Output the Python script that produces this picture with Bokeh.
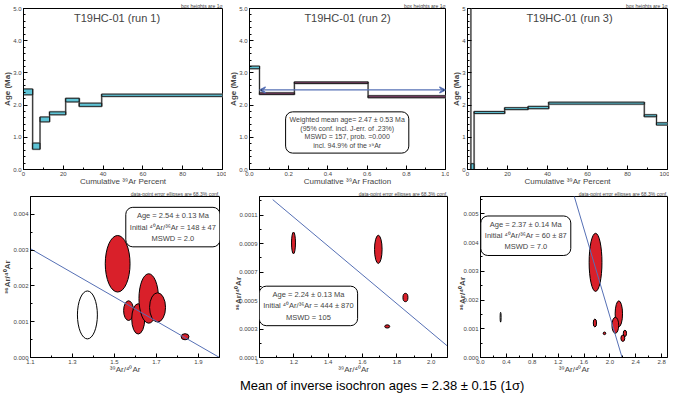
import math
from bokeh.plotting import figure
from bokeh.models import (ColumnDataSource, FixedTicker, PrintfTickFormatter,
                          Arrow, VeeHead, Div, Range1d, Label)
from bokeh.layouts import column, row
from bokeh.embed import file_html
from bokeh.resources import INLINE

FONT = "Liberation Sans"
CYAN = "#5ec3d5"
PURPLE = "#8a4470"
RED = "#d9202a"
BLUE = "#5670b5"

# ---------------- step-heating spectra (cumulative 39Ar, age box lo/hi in Ma)
run1_left = [0.0, 4.6, 8.3, 13.1, 21.2, 28.0, 39.3]
run1_right = [4.6, 8.3, 13.1, 21.2, 28.0, 39.3, 100.0]
run1_lo = [2.32, 0.63, 1.48, 1.70, 2.10, 1.96, 2.27]
run1_hi = [2.50, 0.82, 1.63, 1.79, 2.21, 2.06, 2.34]
run1_fill = [CYAN] * 7

run2_left = [0.0, 0.051, 0.229, 0.605]
run2_right = [0.051, 0.229, 0.605, 1.0]
run2_lo = [3.13, 2.33, 2.67, 2.23]
run2_hi = [3.21, 2.38, 2.72, 2.29]
run2_fill = [CYAN, PURPLE, PURPLE, PURPLE]
run2_wmean = 2.47
run2_wmean_x = [0.051, 1.0]

run3_left = [0.0, 1.7, 3.3, 18.6, 30.3, 40.6, 88.4, 94.5]
run3_right = [1.7, 3.3, 18.6, 30.3, 40.6, 88.4, 94.5, 100.0]
run3_lo = [6.0, 0.0, 1.74, 1.86, 1.89, 2.03, 1.64, 1.38]
run3_hi = [6.6, 0.18, 1.80, 1.92, 1.96, 2.09, 1.70, 1.45]
run3_fill = [CYAN] * 8

# ---------------- inverse isochrons (39Ar/40Ar, 36Ar/40Ar ellipses)
iso1_x = [1.515, 1.371, 1.567, 1.613, 1.663, 1.705, 1.836]
iso1_y = [0.00262, 0.00119, 0.00131, 0.00108, 0.00165, 0.00140, 0.00058]
iso1_w = [0.118, 0.095, 0.047, 0.062, 0.093, 0.076, 0.037]
iso1_h = [0.00158, 0.00134, 0.00055, 0.00085, 0.00138, 0.00082, 0.00017]
iso1_fill = [RED, "white", RED, RED, RED, RED, RED]
iso1_line_x = [1.1, 2.0]
iso1_line_y = [0.00304, 0.0]

iso2_x = [1.198, 1.692, 1.850, 1.744]
iso2_y = [0.000904, 0.000859, 0.000521, 0.000318]
iso2_w = [0.023, 0.044, 0.029, 0.029]
iso2_h = [0.000153, 0.000198, 0.0000586, 0.0000225]
iso2_fill = [RED, RED, RED, RED]
iso2_line_x = [1.077, 2.092]
iso2_line_y = [0.001208, 0.000183]

iso3_x = [1.778, 2.138, 2.084, 1.768, 1.916, 2.232, 2.200, 0.311]
iso3_y = [0.00331, 0.00152, 0.00112, 0.00120, 0.00084, 0.00084, 0.00067, 0.00140]
iso3_w = [0.198, 0.114, 0.104, 0.050, 0.040, 0.050, 0.060, 0.015]
iso3_h = [0.00202, 0.00090, 0.00056, 0.00028, 0.00009, 0.00022, 0.00022, 0.00034]
iso3_fill = [RED, RED, RED, RED, RED, RED, RED, "white"]
iso3_line_x = [1.447, 2.188]
iso3_line_y = [0.00562, 0.0]

# ---------------- texts
titles = ["T19HC-01 (run 1)", "T19HC-01 (run 2)", "T19HC-01 (run 3)"]
wmean_text = ("Weighted mean age= 2.47 \u00b1 0.53 Ma\n"
              "(95% conf. incl. J-err. of .23%)\n"
              "MSWD = 157, prob. =0.000\n"
              "incl. 94.9% of the \u00b3\u2079Ar")
iso1_text = "Age = 2.54 \u00b1 0.13 Ma\nInitial \u2074\u2070Ar/\u00b3\u2076Ar = 148 \u00b1 47\nMSWD = 2.0"
iso2_text = "Age = 2.24 \u00b1 0.13 Ma\nInitial \u2074\u2070Ar/\u00b3\u2076Ar = 444 \u00b1 870\nMSWD = 105"
iso3_text = "Age = 2.37 \u00b1 0.14 Ma\nInitial \u2074\u2070Ar/\u00b3\u2076Ar = 60 \u00b1 87\nMSWD = 7.0"
caption = "Mean of inverse isochron ages = 2.38 \u00b1 0.15 (1\u03c3)"


def style(p, xticks, xminor, xfmt, yticks, yminor, yfmt, xlabel, ylabel):
    p.xaxis.ticker = FixedTicker(ticks=xticks, minor_ticks=xminor)
    p.yaxis.ticker = FixedTicker(ticks=yticks, minor_ticks=yminor)
    p.xaxis.formatter = PrintfTickFormatter(format=xfmt)
    p.yaxis.formatter = PrintfTickFormatter(format=yfmt)
    p.xaxis.axis_label = xlabel
    p.yaxis.axis_label = ylabel
    for ax in (p.xaxis[0], p.yaxis[0]):
        ax.major_tick_in = 4
        ax.major_tick_out = 0
        ax.minor_tick_in = 2
        ax.minor_tick_out = 0
        ax.major_label_text_font_size = "6px"
        ax.major_label_text_font = FONT
        ax.axis_label_text_font = FONT
        ax.major_label_standoff = 2
        ax.axis_label_standoff = -2
        ax.axis_line_color = "black"
        ax.major_tick_line_color = "black"
        ax.minor_tick_line_color = "black"
    p.xaxis.axis_label_text_font_size = "8px"
    p.xaxis.axis_label_text_font_style = "normal"
    p.yaxis.axis_label_text_font_size = "8px"
    p.yaxis.axis_label_text_font_style = "bold"
    p.grid.visible = False
    p.outline_line_color = "black"
    p.outline_line_alpha = 1
    p.title.align = "right"
    p.title.text_font_size = "5px"
    p.title.text_font_style = "normal"
    p.title.text_font = FONT
    p.title.standoff = 0
    p.background_fill_color = "white"
    p.border_fill_color = "white"


def box_label(x, y, text, size):
    return Label(x=x, y=y, text=text, text_align="center", text_baseline="middle",
                 text_font=FONT, text_font_size=size, text_line_height=1.25,
                 background_fill_color="white", background_fill_alpha=1,
                 border_line_color="black", border_line_alpha=1, border_line_width=1,
                 border_radius=7, padding=4)


def plateau(left, right, lo, hi, fill, title, xend, xticks, xminor, xfmt, yticks, yfmt, xlabel,
            title_x, width, lb, rb):
    p = figure(width=width, height=188, x_range=Range1d(0, xend), y_range=Range1d(0, 5),
               output_backend="svg", toolbar_location=None, title="box heights are 1\u03c3",
               min_border_left=lb, min_border_right=rb, min_border_top=0, min_border_bottom=0)
    yminor = [i * 0.2 for i in range(26)]
    style(p, xticks, xminor, xfmt, yticks, yminor, yfmt, xlabel, "Age (Ma)")
    src = ColumnDataSource(dict(left=left, right=right, bottom=lo, top=hi, fill=fill))
    cx, cy0, cy1 = [], [], []
    for i in range(len(left) - 1):
        cx.append(right[i])
        cy0.append(min(lo[i], lo[i + 1]))
        cy1.append(max(hi[i], hi[i + 1]))
    csrc = ColumnDataSource(dict(x=cx, y0=cy0, y1=cy1))
    # grey shadow
    p.quad(left="left", right="right", bottom="bottom", top="top", source=src,
           fill_alpha=0, line_color="#b8b8b8", line_width=2)
    p.segment(x0="x", x1="x", y0="y0", y1="y1", source=csrc, line_color="#b8b8b8", line_width=2)
    p.quad(left="left", right="right", bottom="bottom", top="top", source=src,
           fill_color="fill", line_color="#1a1a1a", line_width=0.9)
    p.segment(x0="x", x1="x", y0="y0", y1="y1", source=csrc, line_color="#1a1a1a", line_width=0.9)
    p.add_layout(Label(x=title_x, y=4.72, text=title, text_align="center", text_baseline="middle",
                       text_font=FONT, text_font_size="11px"))
    return p


p1 = plateau(run1_left, run1_right, run1_lo, run1_hi, run1_fill, titles[0], 100,
             [0, 20, 40, 60, 80, 100], [10, 30, 50, 70, 90], "%d",
             [0, 1, 2, 3, 4, 5], "%.1f", "Cumulative \u00b3\u2079Ar Percent", 47, 226, 18, 4)

p2 = plateau(run2_left, run2_right, run2_lo, run2_hi, run2_fill, titles[1], 1.0,
             [0, 0.2, 0.4, 0.6, 0.8, 1.0], [0.1, 0.3, 0.5, 0.7, 0.9], "%.1f",
             [0, 1, 2, 3, 4, 5], "%.1f", "Cumulative \u00b3\u2079Ar Fraction", 0.5, 223, 18, 4)
asrc = ColumnDataSource(dict(x0=[run2_wmean_x[0]], x1=[run2_wmean_x[1]],
                             y0=[run2_wmean], y1=[run2_wmean]))
p2.add_layout(Arrow(x_start="x0", y_start="y0", x_end="x1", y_end="y1", source=asrc,
                    line_color=BLUE, line_width=1.2,
                    start=VeeHead(size=6, line_color=BLUE, line_width=1.2),
                    end=VeeHead(size=6, line_color=BLUE, line_width=1.2)))
p2.add_layout(box_label(0.4985, 1.15, wmean_text, "7px"))

p3 = plateau(run3_left, run3_right, run3_lo, run3_hi, run3_fill, titles[2], 100,
             [0, 20, 40, 60, 80, 100], [10, 30, 50, 70, 90], "%d",
             [0, 1, 2, 3, 4, 5], "%d", "Cumulative \u00b3\u2079Ar Percent", 51, 220, 16, 2)


def isochron(ex, ey, ew, eh, efill, lx, ly, xr, yr, xticks, xminor, xfmt, yticks, yminor, yfmt,
             tx, ty, text, width, lb, rb, flip=False):
    p = figure(width=width, height=188, x_range=Range1d(*xr), y_range=Range1d(*yr),
               output_backend="svg", toolbar_location=None,
               title="data-point error ellipses are 68.3% conf.",
               min_border_left=lb, min_border_right=rb, min_border_top=0, min_border_bottom=0)
    style(p, xticks, xminor, xfmt, yticks, yminor, yfmt,
          "\u00b3\u2079Ar/\u2074\u2070Ar", "\u00b3\u2076Ar/\u2074\u2070Ar")
    if flip:
        try:
            p.yaxis[0].axis_label_orientation = math.pi / 2
        except Exception:
            pass
    src = ColumnDataSource(dict(x=ex, y=ey, w=ew, h=eh, fill=efill))
    p.ellipse(x="x", y="y", width="w", height="h", source=src, fill_color="fill",
              line_color="black", line_width=1)
    p.line(lx, ly, line_color=BLUE, line_width=1)
    p.add_layout(box_label(tx, ty, text, "7.5px"))
    return p


p4 = isochron(iso1_x, iso1_y, iso1_w, iso1_h, iso1_fill, iso1_line_x, iso1_line_y,
              (1.1, 2.0), (0.0, 0.0045),
              [1.1, 1.3, 1.5, 1.7, 1.9], [1.2, 1.4, 1.6, 1.8, 2.0], "%.1f",
              [0, 0.001, 0.002, 0.003, 0.004], [0.0005, 0.0015, 0.0025, 0.0035], "%.3f",
              1.778, 0.003645, iso1_text, 226, 18, 7)

p5 = isochron(iso2_x, iso2_y, iso2_w, iso2_h, iso2_fill, iso2_line_x, iso2_line_y,
              (1.0, 2.095), (0.0001, 0.00123),
              [1.0, 1.2, 1.4, 1.6, 1.8, 2.0], [1.1, 1.3, 1.5, 1.7, 1.9], "%.1f",
              [0.0001, 0.0003, 0.0005, 0.0007, 0.0009, 0.0011],
              [0.0002, 0.0004, 0.0006, 0.0008, 0.0010, 0.0012], "%.4f",
              1.285, 0.000462, iso2_text, 224, 18, 3, flip=True)

p6 = isochron(iso3_x, iso3_y, iso3_w, iso3_h, iso3_fill, iso3_line_x, iso3_line_y,
              (0.0, 2.89), (0.0, 0.0056),
              [0.0, 0.4, 0.8, 1.2, 1.6, 2.0, 2.4, 2.8], [0.2, 0.6, 1.0, 1.4, 1.8, 2.2, 2.6], "%.1f",
              [0, 0.001, 0.002, 0.003, 0.004, 0.005],
              [0.0005, 0.0015, 0.0025, 0.0035, 0.0045, 0.0055], "%.3f",
              0.70, 0.004235, iso3_text, 219, 18, 2, flip=True)

cap = Div(text=caption, width=669, height=20, margin=(0, 0, 0, 0),
          styles={"text-align": "left", "font-family": FONT, "font-size": "13px",
                  "line-height": "20px", "padding-left": "240px", "width": "669px",
                  "box-sizing": "border-box"})

layout = column(row(p1, p2, p3), row(p4, p5, p6), cap)

open("out.html", "w").write(file_html(layout, INLINE))
